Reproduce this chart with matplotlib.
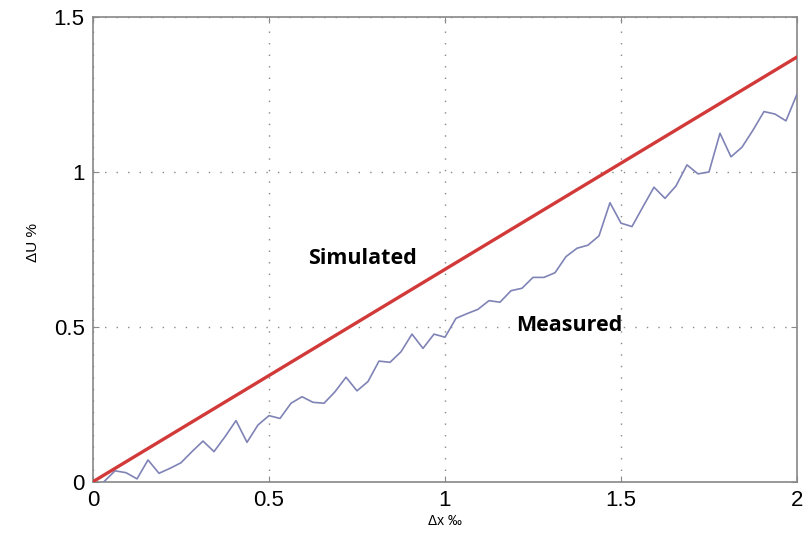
import matplotlib
matplotlib.use("Agg")
import matplotlib.pyplot as plt
import numpy as np

sim_x = [0.0, 2.0]
sim_y = [0.0, 1.37]

meas_y = [0.0, 0.035, 0.029, 0.009, 0.07, 0.027, 0.043, 0.061, 0.097, 0.131,
          0.097, 0.145, 0.197, 0.127, 0.183, 0.213, 0.204, 0.253, 0.274, 0.256,
          0.253, 0.29, 0.337, 0.293, 0.323, 0.389, 0.385, 0.419, 0.476, 0.43,
          0.476, 0.466, 0.527, 0.542, 0.556, 0.584, 0.579, 0.616, 0.624, 0.659,
          0.659, 0.674, 0.726, 0.753, 0.763, 0.793, 0.9, 0.834, 0.823, 0.887,
          0.95, 0.914, 0.954, 1.022, 0.993, 0.999, 1.124, 1.048, 1.079, 1.134,
          1.194, 1.186, 1.164, 1.25]
meas_x = [(k + 1) / 32 for k in range(len(meas_y))]

xticks = [0, 0.5, 1, 1.5, 2]
xticklabels = ["0", "0.5", "1", "1.5", "2"]
yticks = [0, 0.5, 1, 1.5]
yticklabels = ["0", "0.5", "1", "1.5"]

plt.rcParams['font.family'] = ['Liberation Sans', 'DejaVu Sans']

fig = plt.figure(figsize=(8.06, 5.34), dpi=100)
ax = fig.add_axes([0.1154, 0.098, 0.8734, 0.8707])

ax.plot(meas_x, meas_y, color='#7f83b5', lw=1.2, zorder=3)
ax.plot(sim_x, sim_y, color='#d23a3a', lw=2.4, zorder=4)

ax.set_xlim(0, 2)
ax.set_ylim(0, 1.5)
ax.set_xticks(xticks)
ax.set_xticklabels(xticklabels)
ax.set_yticks(yticks)
ax.set_yticklabels(yticklabels)
ax.tick_params(direction='in', length=4, width=0.8, color='#888888',
               labelsize=16, top=True, right=True, pad=6)
ax.grid(True, linestyle=(0, (1, 7.3)), color='#888888', lw=1.0)
for s in ax.spines.values():
    s.set_color('#888888')
    s.set_linewidth(1.2)

ax.set_xlabel('Δx ‰', fontsize=10, labelpad=2)
ax.set_ylabel('ΔU %', fontsize=11)
ax.yaxis.set_label_coords(-0.076, 0.515)

ax.text(0.766, 0.72, 'Simulated', fontsize=15.5, fontweight='bold',
        family=['Open Sans', 'DejaVu Sans'], ha='center', va='center')
ax.text(1.353, 0.505, 'Measured', fontsize=15.5, fontweight='bold',
        family=['Open Sans', 'DejaVu Sans'], ha='center', va='center')

fig.savefig('out.png', dpi=100)
